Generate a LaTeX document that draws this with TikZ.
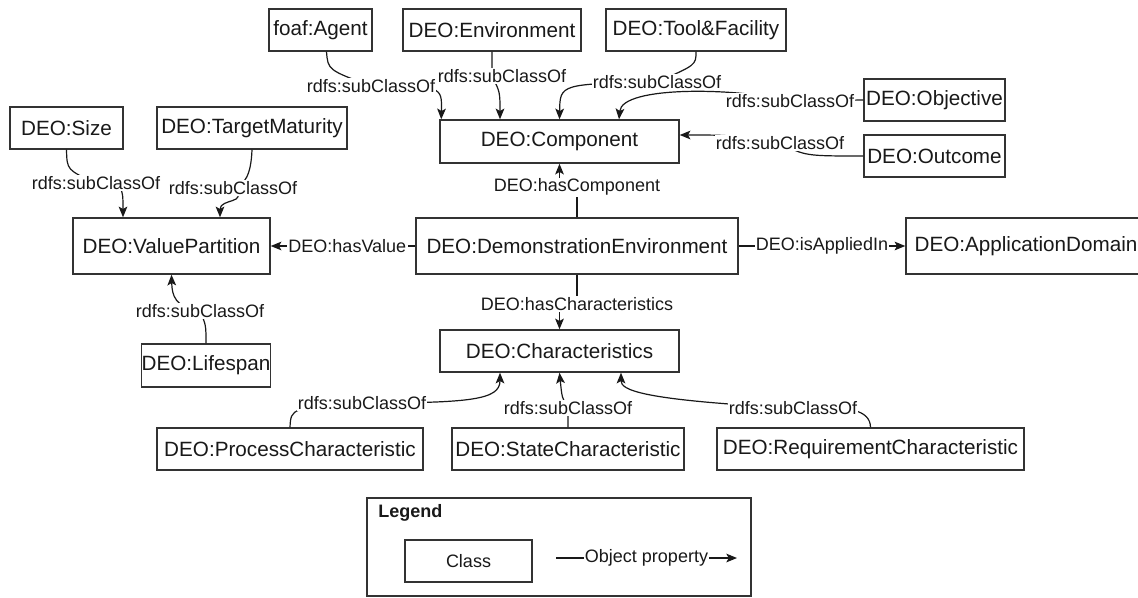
\documentclass[tikz,border=0pt]{standalone}
\usepackage{fontspec}
\setmainfont{Liberation Sans}
\usetikzlibrary{arrows.meta}

\begin{document}
\begin{tikzpicture}[x=0.75pt,y=-0.75pt,>={Stealth[length=8pt,width=6.5pt,inset=1.8pt]}]
\tikzstyle{cls}=[draw=black!80,fill=white,line width=1.1pt,inner sep=0pt,minimum height=31.5pt,font=\fontsize{15.5}{18}\selectfont,text=black!90]
\tikzstyle{lbl}=[fill=white,inner sep=1pt,font=\fontsize{13.5}{15}\selectfont,text=black!90]
\tikzstyle{subcls}=[->,draw=black!90,line width=0.9pt]
\tikzstyle{objprop}=[->,draw=black!90,line width=0.9pt]
\path[use as bounding box,fill=white] (0,0) rectangle (1138,597);
%Top Row
\node[cls,minimum width=77.25pt](agent) at (320.5,30){foaf:Agent};
\node[cls,minimum width=133.5pt](envir) at (492,30){DEO:Environment};
\node[cls,minimum width=135pt](tool) at (696,30){DEO:Tool\&Facility};
\node[cls,minimum width=105.75pt](obj) at (934.5,100){DEO:Objective};
\node[cls,minimum width=105.75pt](outcome) at (934.5,156){DEO:Outcome};
\node[cls,minimum width=179.25pt,minimum height=32.25pt](comp) at (559.5,141.5){DEO:Component};
%Left Side
\node[cls,minimum width=84.75pt](size) at (66.5,128){DEO:Size};
\node[cls,minimum width=142.5pt](target) at (252,128){DEO:TargetMaturity};
\node[cls,minimum width=147.75pt,minimum height=42pt](valpart) at (171.5,246){DEO:ValuePartition};
\node[cls,minimum width=94.5pt,minimum height=32.25pt](life) at (206,365.5){DEO:Lifespan};
%Middle Row
\node[cls,minimum width=241.5pt,minimum height=42pt](demo) at (577,246){DEO:DemonstrationEnvironment};
\node[cls,minimum width=180pt,minimum height=42pt](appdom) at (1026,246){DEO:ApplicationDomain};
%Bottom Rows
\node[cls,minimum width=179.25pt](charac) at (559.5,351){DEO:Characteristics};
\node[cls,minimum width=199.5pt](proc) at (290,449){DEO:ProcessCharacteristic};
\node[cls,minimum width=174pt](state) at (568,449){DEO:StateCharacteristic};
\node[cls,minimum width=230.25pt](req) at (870.5,449){DEO:RequirementCharacteristic};

%subClassOf into Component
\draw[subcls] ([xshift=4.5pt]agent.south) .. controls (328,70) .. (371,86) node[lbl]{rdfs:subClassOf} .. controls (442,86) .. ([xshift=1.5pt]comp.north west);
\draw[subcls] (envir.south) -- (492,76) node[lbl,xshift=7.5pt]{rdfs:subClassOf} .. controls (500,92) .. (comp.north -| 500,0);
\draw[subcls] (tool.south) .. controls (696,65) .. (657,82) node[lbl]{rdfs:subClassOf} .. controls (560,84) .. (comp.north);
\draw[subcls] (obj.west) -- (790,101) node[lbl]{rdfs:subClassOf} .. controls (740,88) and (622,85) .. (comp.north -| 619,0);
\draw[subcls] (outcome.west) .. controls (805,156) .. (780,143) node[lbl]{rdfs:subClassOf} .. controls (730,135) .. (comp.east |- 0,135);

%Object properties
\draw[objprop] (demo.north) -- ++(0,-30) node[lbl]{DEO:hasComponent} -| (comp.south);
\draw[objprop] (demo.south) -- ++(0,29) node[lbl]{DEO:hasCharacteristics} -| (charac.north);
\draw[objprop] (demo.west) -- (valpart.east) node[lbl,pos=0.47]{DEO:hasValue};
\draw[objprop] (demo.east) -- (appdom.west) node[lbl,midway]{DEO:isAppliedIn};

%subClassOf into ValuePartition
\draw[subcls] (size.south) .. controls (67,170) .. (96,183) node[lbl]{rdfs:subClassOf} .. controls (123,185) .. (valpart.north -| 123,0);
\draw[subcls] (target.south) .. controls (251,175) and (245,185) .. (233,188) node[lbl]{rdfs:subClassOf} .. controls (250,204) and (220,198) .. (valpart.north -| 220,0);
\draw[subcls] (life.north) .. controls (206,325) .. (200,311) node[lbl]{rdfs:subClassOf} .. controls (175,308) and (172,295) .. (valpart.south);

%subClassOf into Characteristics
\draw[subcls] (proc.north) .. controls (291,408) .. (362,403) node[lbl]{rdfs:subClassOf} .. controls (470,403) and (500,400) .. (charac.south -| 500,0);
\draw[subcls] (state.north) -- (568,408) node[lbl]{rdfs:subClassOf} .. controls (562,398) .. (charac.south);
\draw[subcls] (req.north) .. controls (870,410) and (850,405) .. (793,408) node[lbl]{rdfs:subClassOf} .. controls (640,400) and (621,390) .. (charac.south -| 621,0);

%Legend
\node[cls,minimum width=288pt,minimum height=73.5pt](legend) at (559,547){};
\node[anchor=west,inner sep=0pt,font=\bfseries\fontsize{13.5}{15}\selectfont,text=black!90](legtitle) at (378,513){Legend};
\node[cls,minimum width=95.25pt,font=\fontsize{13.5}{15}\selectfont](class) at (468.5,561){Class};
\coordinate (ps) at (556,558);
\coordinate (pe) at (737,558);
\draw[objprop] (ps) -- (pe) node[lbl,midway]{Object property};
\end{tikzpicture}
\end{document}
